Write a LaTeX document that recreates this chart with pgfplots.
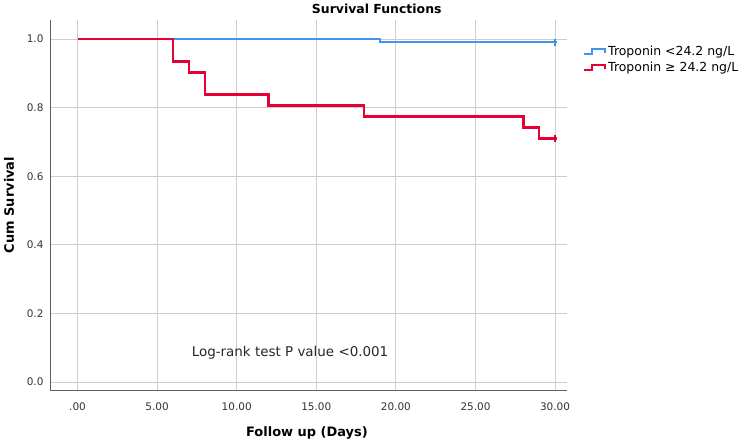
\documentclass[border=0pt]{standalone}
\usepackage{fontspec}
\setmainfont{DejaVu Sans}
\usepackage{pgfplots}
\pgfplotsset{compat=1.18}
\definecolor{kmblue}{RGB}{66,148,236}
\definecolor{kmred}{RGB}{230,0,52}
\definecolor{gridgray}{RGB}{205,205,205}
\definecolor{axgray}{RGB}{95,95,95}
\begin{document}
\begin{tikzpicture}
\begin{axis}[
  scale only axis,
  width=517bp, height=370bp,
  xmin=-1.73, xmax=30.75,
  ymin=-0.0233, ymax=1.0554,
  axis x line*=bottom, axis y line*=left,
  axis line style={-, draw=axgray, line width=0.9bp},
  major tick length=0pt,
  xtick={0,5,10,15,20,25,30},
  xticklabels={.00,5.00,10.00,15.00,20.00,25.00,30.00},
  ytick={0,0.2,0.4,0.6,0.8,1.0},
  yticklabels={0.0,0.2,0.4,0.6,0.8,1.0},
  grid=major,
  major grid style={line width=1bp, draw=gridgray},
  /pgf/number format/assume math mode=true,
  tick label style={font=\fontsize{10.5}{12}\selectfont, text=black!80},
  xticklabel style={yshift=-9bp},
  yticklabel style={xshift=-3bp},
  xlabel={Follow up (Days)},
  ylabel={Cum Survival},
  xlabel style={font=\bfseries\fontsize{13}{15}\selectfont, at={(axis description cs:0.497,-0.116)}, anchor=center},
  ylabel style={font=\bfseries\fontsize{13}{15}\selectfont, at={(axis description cs:-0.079,0.5)}, anchor=center, rotate=0},
  clip=false,
  legend style={draw=none, fill=none, at={(axis description cs:1.031,0.935)}, anchor=north west,
     font=\fontsize{12.5}{14}\selectfont, inner sep=0pt, row sep=1bp, cells={anchor=west}},
  legend cell align=left,
  legend image code/.code={\draw[#1, line width=2bp] (0bp,-2.2bp) -- (8bp,-2.2bp) -- (8bp,2.4bp) -- (21bp,2.4bp) -- (21bp,-1bp);},
]
\addplot[const plot, draw=kmblue, line width=2.6bp] coordinates {
  (0,1.0) (19,0.991) (30.1,0.991)
};
\addlegendentry{Troponin <24.2 ng/L}
\addplot[const plot, draw=kmred, line width=2.6bp] coordinates {
  (0,1.0) (6,0.935) (7,0.903) (8,0.839) (12,0.806) (18,0.774) (28,0.742) (29,0.710) (30.1,0.710)
};
\addlegendentry{Troponin ≥ 24.2 ng/L}
\addplot[forget plot, only marks, mark=|, mark size=3.5bp, draw=kmblue, mark options={line width=2bp}] coordinates {(30,0.991)};
\addplot[forget plot, only marks, mark=|, mark size=3.5bp, draw=kmred, mark options={line width=2bp}] coordinates {(30,0.710)};
\node[font=\fontsize{13.5}{15}\selectfont, text=black!85] at (axis cs:13.35,0.0845) {Log-rank test P value <0.001};
\node[font=\bfseries\fontsize{12.5}{14}\selectfont, anchor=center] at (axis description cs:0.632,1.031) {Survival Functions};
\coordinate (bbl) at (axis description cs:-0.09671,-0.15676);
\coordinate (btr) at (axis description cs:1.33656,1.05405);
\end{axis}
\pgfresetboundingbox
\path (bbl) rectangle (btr);
\end{tikzpicture}
\end{document}
